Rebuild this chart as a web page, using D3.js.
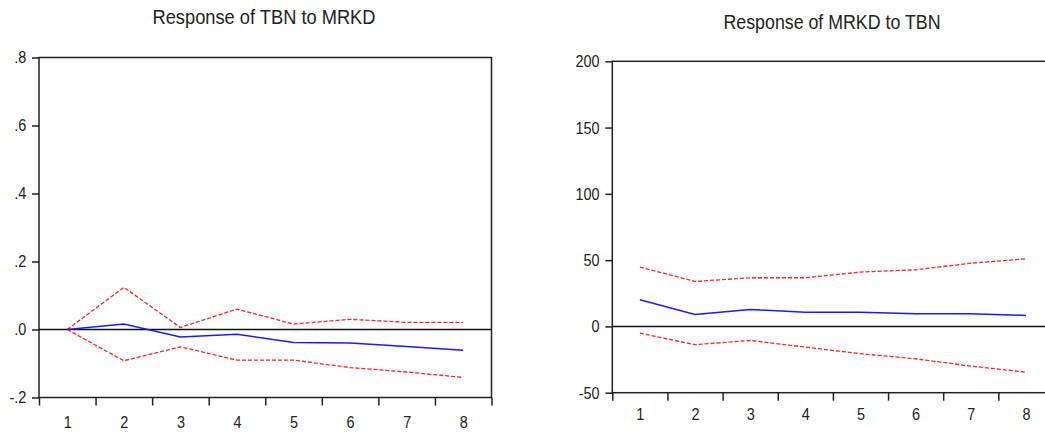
<!DOCTYPE html>
<html>
<head>
<meta charset="utf-8">
<script src="https://cdn.jsdelivr.net/npm/d3@7"></script>
<style>
  body { margin: 0; background: #fff; }
  svg text { font-family: "Liberation Sans", Arial, sans-serif; fill: #222; }
</style>
</head>
<body>
<svg id="chart" width="1045" height="433"></svg>
<script>
// Periods
const periods = [1, 2, 3, 4, 5, 6, 7, 8];

// Response of TBN to MRKD
const tbnResp  = [0.000, 0.016, -0.022, -0.014, -0.038, -0.040, -0.050, -0.061];
const tbnUpper = [0.000, 0.124, 0.006, 0.060, 0.016, 0.030, 0.021, 0.021];
const tbnLower = [0.000, -0.092, -0.051, -0.090, -0.090, -0.112, -0.125, -0.141];
const tbnTicks = [-0.2, 0, 0.2, 0.4, 0.6, 0.8];

// Response of MRKD to TBN
const mrkdResp  = [20.1, 9.0, 12.8, 10.6, 10.6, 9.6, 9.6, 8.3];
const mrkdUpper = [44.7, 33.9, 36.7, 36.7, 41.0, 42.7, 47.7, 51.0];
const mrkdLower = [-5.0, -13.8, -10.6, -15.6, -20.6, -24.4, -29.9, -34.5];
const mrkdTicks = [-50, 0, 50, 100, 150, 200];

const svg = d3.select('#chart');
const squeeze = 0.85; // eviews-style narrow text

function drawPanel(opts) {
    const { left, right, top, bottom, title, titleX, titleY, titleLen, xPad,
            yDomain, yTicks, yFmt, resp, upper, lower } = opts;

    const x = d3.scaleLinear().domain([0.5, 8.5]).range([left, right]);
    const y = d3.scaleLinear().domain(yDomain).range([bottom, top]);

    const g = svg.append('g');

    // title
    g.append('text')
        .attr('x', titleX).attr('y', titleY)
        .attr('text-anchor', 'middle')
        .attr('textLength', titleLen)
        .attr('lengthAdjust', 'spacingAndGlyphs')
        .style('font-size', '21px')
        .text(title);

    // frame
    g.append('rect')
        .attr('x', left).attr('y', top)
        .attr('width', right - left).attr('height', bottom - top)
        .attr('fill', 'none').attr('stroke', '#222').attr('stroke-width', 1.5);

    // y axis
    const yAxis = g.append('g').attr('transform', `translate(${left},0)`)
        .call(d3.axisLeft(y).tickValues(yTicks).tickFormat(yFmt).tickSize(7).tickPadding(8));
    yAxis.select('.domain').remove();
    yAxis.selectAll('line').attr('stroke', '#222').attr('stroke-width', 1.5);
    yAxis.selectAll('text').style('font-size', '17px').attr('fill', '#222')
        .attr('transform', `scale(${squeeze},1)`);

    // x axis: boundary ticks
    const xBounds = d3.range(0.5, 9, 1);
    const xAxisMarks = g.append('g').attr('transform', `translate(0,${bottom})`)
        .call(d3.axisBottom(x).tickValues(xBounds).tickFormat('').tickSize(8));
    xAxisMarks.select('.domain').remove();
    xAxisMarks.selectAll('line').attr('stroke', '#222').attr('stroke-width', 1.5);

    // x axis: labels at period centres
    const xAxisLabels = g.append('g').attr('transform', `translate(0,${bottom})`)
        .call(d3.axisBottom(x).tickValues(periods).tickFormat(d3.format('d')).tickSize(0).tickPadding(xPad));
    xAxisLabels.select('.domain').remove();
    xAxisLabels.selectAll('text').style('font-size', '17px').attr('fill', '#222')
        .attr('transform', `scale(${squeeze},1)`);

    // zero line
    g.append('line')
        .attr('x1', left).attr('x2', right)
        .attr('y1', y(0)).attr('y2', y(0))
        .attr('stroke', '#111').attr('stroke-width', 1.5);

    const line = d3.line().x((d, i) => x(periods[i])).y(d => y(d));

    g.append('path').datum(upper).attr('d', line)
        .attr('fill', 'none').attr('stroke', '#ff2020').attr('stroke-width', 1.3)
        .attr('stroke-dasharray', '4,2');
    g.append('path').datum(lower).attr('d', line)
        .attr('fill', 'none').attr('stroke', '#ff2020').attr('stroke-width', 1.3)
        .attr('stroke-dasharray', '4,2');
    g.append('path').datum(resp).attr('d', line)
        .attr('fill', 'none').attr('stroke', '#1a1aff').attr('stroke-width', 1.5);
}

const decFmt = d => d3.format('.1f')(d).replace('\u2212', '-').replace(/^(-?)0\./, '$1.');
const intFmt = d => d3.format('d')(d).replace('\u2212', '-');

drawPanel({
    left: 39, right: 491.5, top: 57.5, bottom: 397.5,
    title: 'Response of TBN to MRKD', titleX: 264, titleY: 24, titleLen: 223, xPad: 18,
    yDomain: [-0.2, 0.8], yTicks: tbnTicks, yFmt: decFmt,
    resp: tbnResp, upper: tbnUpper, lower: tbnLower
});

drawPanel({
    left: 612.3, right: 1053.5, top: 61.3, bottom: 392.7,
    title: 'Response of MRKD to TBN', titleX: 832, titleY: 29, titleLen: 217, xPad: 15,
    yDomain: [-50, 200], yTicks: mrkdTicks, yFmt: intFmt,
    resp: mrkdResp, upper: mrkdUpper, lower: mrkdLower
});
</script>
</body>
</html>
